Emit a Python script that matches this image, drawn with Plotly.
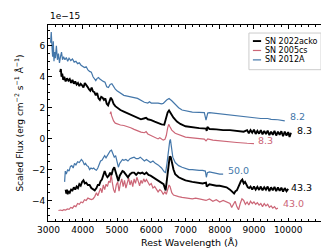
import plotly.graph_objects as go

# ---------------- data (flux in units of 1e-15, already offset) ----------------
wl_12a_early = [3060, 3080, 3100, 3120, 3140, 3160, 3180, 3200, 3230, 3260, 3290, 3320, 3350, 3380, 3410, 3440,
                3480, 3520, 3560, 3600, 3650, 3700, 3750, 3800, 3850, 3900, 3950, 4000, 4050, 4100, 4150, 4200,
                4250, 4300, 4340, 4380, 4420, 4460, 4500, 4550, 4600, 4650, 4700, 4750, 4800, 4850, 4900, 4950,
                5000, 5100, 5200, 5300, 5400, 5500, 5600, 5700, 5800, 5900, 5950, 6000, 6100, 6200, 6300, 6350,
                6450, 6520, 6600, 6700, 6800, 6900, 7000, 7200, 7400, 7550, 7600, 7650, 7700, 8000, 8200, 8500,
                8700, 9000, 9200, 9400, 9500, 9700, 9900]
fl_12a_early = [6.2, 6.9, 6.0, 5.3, 6.3, 5.0, 5.6, 5.2, 6.0, 5.1, 5.5, 4.9, 5.3, 5.6, 5.1, 5.3,
                5.1, 5.25, 5.0, 5.2, 5.05, 5.15, 4.95, 5.0, 4.85, 4.9, 4.75, 4.7, 4.6, 4.65, 4.45, 4.35,
                4.3, 4.0, 3.85, 3.75, 3.9, 3.95, 3.85, 3.75, 3.7, 3.65, 3.35, 3.3, 3.5, 3.55, 3.35, 3.2,
                3.1, 2.95, 2.8, 2.75, 2.72, 2.65, 2.6, 2.45, 2.35, 2.3, 2.38, 2.3, 2.3, 2.3, 2.25, 2.28,
                2.5, 2.6, 2.45, 2.2, 2.0, 1.85, 1.8, 1.72, 1.7, 1.68, 1.2, 1.65, 1.68, 1.6, 1.55, 1.45,
                1.4, 1.35, 1.3, 1.3, 1.25, 1.22, 1.15]

wl_acko_early = [3340, 3360, 3380, 3400, 3430, 3460, 3500, 3540, 3580, 3620, 3660, 3700, 3740, 3780, 3820, 3860,
                 3900, 3940, 3980, 4020, 4060, 4100, 4140, 4180, 4220, 4260, 4300, 4340, 4380, 4420, 4460, 4500,
                 4540, 4580, 4620, 4660, 4700, 4740, 4780, 4820, 4860, 4900, 4950, 5000, 5100, 5200, 5300, 5400,
                 5500, 5600, 5700, 5780, 5850, 5900, 6000, 6100, 6200, 6300, 6380, 6420, 6480, 6520, 6580, 6650,
                 6750, 6850, 7000, 7200, 7400, 7600, 7620, 7640, 7700, 7900, 8100, 8300, 8500, 8700,
                 8800, 8850, 8900, 8950, 9000, 9050, 9100, 9150, 9200, 9250, 9300, 9350, 9400, 9450, 9500, 9550,
                 9600, 9650, 9700, 9750, 9800, 9850, 9900, 9950, 10000, 10040, 10080]
fl_acko_early = [4.3, 4.5, 4.0, 4.2, 3.8, 4.0, 3.7, 3.9, 3.75, 3.85, 3.6, 3.8, 3.55, 3.7, 3.5, 3.6,
                 3.4, 3.55, 3.45, 3.3, 3.6, 3.5, 3.35, 3.2, 3.1, 3.3, 3.05, 3.0, 2.8, 2.95, 2.6, 2.5,
                 2.7, 2.65, 2.5, 2.6, 2.25, 2.15, 2.4, 2.65, 2.5, 2.25, 2.1, 2.0, 1.85, 1.75, 1.65, 1.55,
                 1.45, 1.35, 1.25, 1.3, 1.35, 1.25, 1.2, 1.1, 1.0, 0.92, 0.9, 1.2, 1.7, 1.82, 1.6, 1.35,
                 1.1, 0.95, 0.8, 0.72, 0.68, 0.65, 0.5, 0.75, 0.62, 0.6, 0.55, 0.55, 0.5, 0.45,
                 0.55, 0.35, 0.55, 0.38, 0.58, 0.3, 0.5, 0.32, 0.55, 0.28, 0.5, 0.3, 0.52, 0.22, 0.45, 0.25,
                 0.5, 0.2, 0.45, 0.25, 0.48, 0.15, 0.45, 0.2, 0.42, 0.1, 0.38]

wl_05cs_early = [4800, 4820, 4840, 4870, 4900, 4950, 5000, 5100, 5200, 5300, 5400, 5500, 5600, 5700, 5800, 5850,
                 5900, 6000, 6050, 6100, 6150, 6200, 6250, 6300, 6350, 6400, 6440, 6480, 6510, 6550, 6600, 6700,
                 6800, 6900, 7000, 7200, 7400, 7550, 7600, 7650, 7800, 8000, 8200, 8500, 8800, 9000]
fl_05cs_early = [1.6, 1.75, 1.5, 1.3, 1.15, 1.0, 0.95, 0.88, 0.85, 0.8, 0.7, 0.6, 0.5, 0.42, 0.38, 0.45,
                 0.3, 0.2, 0.12, 0.1, 0.02, -0.02, 0.05, 0.0, -0.1, -0.05, 0.2, 0.7, 0.92, 0.75, 0.55, 0.35,
                 0.25, 0.15, 0.1, 0.05, 0.0, -0.03, -0.15, -0.02, -0.1, -0.15, -0.2, -0.25, -0.3, -0.32]

wl_12a_late = [3470, 3490, 3520, 3560, 3600, 3640, 3680, 3720, 3760, 3800, 3850, 3900, 3960, 4000, 4050, 4080,
               4120, 4160, 4200, 4240, 4280, 4320, 4360, 4400, 4440, 4480, 4520, 4560, 4600, 4640, 4680, 4720,
               4760, 4800, 4840, 4880, 4920, 4960, 5000, 5040, 5080, 5120, 5160, 5200, 5260, 5320, 5380, 5440,
               5500, 5560, 5620, 5680, 5740, 5800, 5860, 5920, 5980, 6050, 6120, 6200, 6300, 6380, 6420, 6460,
               6500, 6540, 6560, 6590, 6630, 6700, 6800, 6900, 7000, 7100, 7200, 7300, 7400, 7500, 7580, 7610,
               7640, 7700, 7800, 7900, 8000, 8100]
fl_12a_late = [-2.8, -2.1, -2.3, -2.0, -2.1, -1.8, -1.75, -1.9, -1.6, -1.7, -1.5, -1.55, -1.35, -1.45, -1.7, -1.6,
               -1.75, -1.8, -2.0, -1.9, -1.95, -1.9, -2.0, -2.05, -1.9, -1.7, -1.45, -1.4, -1.2, -1.1, -1.25, -1.1,
               -1.0, -0.8, -0.75, -0.95, -1.2, -1.1, -1.5, -1.85, -1.6, -1.45, -1.35, -1.4, -1.35, -1.45, -1.3, -1.25,
               -1.2, -1.3, -1.3, -1.2, -1.3, -1.45, -1.35, -1.45, -1.55, -1.45, -1.6, -1.7, -1.9, -2.15, -2.2, -1.6,
               -0.8, -0.15, -0.05, -0.5, -1.2, -1.55, -1.75, -1.85, -1.95, -2.0, -2.0, -2.05, -2.05, -2.05, -2.1, -2.5,
               -2.2, -2.15, -2.2, -2.25, -2.3, -2.3]

wl_acko_late = [3500, 3520, 3540, 3560, 3580, 3620, 3660, 3700, 3740, 3780, 3820, 3860, 3900, 3940, 3980, 4020,
                4060, 4100, 4150, 4200, 4250, 4300, 4350, 4400, 4440, 4480, 4520, 4560, 4600, 4640, 4680, 4720,
                4760, 4800, 4840, 4880, 4920, 4960, 5000, 5040, 5080, 5120, 5160, 5200, 5260, 5320, 5380, 5440,
                5500, 5560, 5620, 5680, 5740, 5800, 5860, 5920, 5980, 6050, 6120, 6200, 6280, 6360, 6420, 6460,
                6500, 6540, 6570, 6600, 6650, 6700, 6800, 6900, 7000, 7200, 7400, 7500, 7600, 7620, 7700, 7800,
                7900, 8000, 8100, 8200, 8300, 8380, 8420, 8460, 8500, 8540, 8580, 8620, 8660, 8700, 8740, 8780,
                8820, 8860, 8900, 8950, 9000, 9050, 9100, 9150, 9200, 9250, 9300, 9350, 9400, 9450, 9500, 9550,
                9600, 9650, 9700, 9750, 9800, 9850, 9900, 9950, 10000]
fl_acko_late = [-3.3, -3.55, -3.3, -3.6, -3.4, -3.5, -3.3, -3.35, -3.15, -3.3, -3.1, -3.2, -2.95, -3.05, -2.8, -2.7,
                -2.9, -2.85, -3.0, -3.0, -3.2, -3.25, -3.35, -3.2, -3.0, -3.0, -2.75, -2.65, -2.3, -2.1, -2.35, -2.5,
                -2.4, -2.2, -2.35, -2.0, -1.85, -2.2, -2.5, -2.75, -2.4, -2.25, -2.1, -2.15, -2.35, -2.5, -2.3, -2.2,
                -2.2, -2.35, -2.2, -2.25, -2.2, -2.3, -2.2, -2.35, -2.4, -2.5, -2.6, -2.7, -2.8, -2.95, -3.35, -2.6,
                -1.8, -1.15, -1.2, -1.6, -2.0, -2.3, -2.5, -2.6, -2.7, -2.8, -2.85, -2.9, -2.85, -3.1, -2.95, -3.0,
                -3.05, -3.05, -3.1, -3.15, -3.3, -3.5, -3.55, -3.4, -3.35, -3.15, -2.9, -2.75, -2.65, -2.9, -2.8, -3.0,
                -3.15, -3.2, -3.1, -3.3, -3.1, -3.3, -3.12, -3.32, -3.1, -3.35, -3.15, -3.3, -3.1, -3.4, -3.15, -3.35,
                -3.12, -3.4, -3.15, -3.38, -3.18, -3.42, -3.2, -3.4, -3.25]

wl_05cs_late = [3290, 3350, 3400, 3450, 3500, 3550, 3600, 3650, 3700, 3750, 3800, 3850, 3900, 3950, 4000, 4050,
                4100, 4150, 4200, 4250, 4300, 4350, 4400, 4440, 4480, 4520, 4560, 4600, 4640, 4680, 4720, 4760,
                4800, 4830, 4860, 4900, 4940, 4980, 5020, 5060, 5100, 5140, 5180, 5220, 5260, 5300, 5340, 5380,
                5420, 5460, 5500, 5540, 5580, 5620, 5660, 5700, 5740, 5780, 5820, 5860, 5900, 5950, 6000, 6050,
                6100, 6150, 6200, 6250, 6300, 6350, 6400, 6440, 6480, 6520, 6550, 6600, 6650, 6700, 6800, 6900,
                7000, 7100, 7200, 7300, 7400, 7500, 7600, 7700, 7800, 7900, 8000, 8100, 8200, 8300, 8350, 8400,
                8450, 8500, 8550, 8600, 8650, 8700, 8750, 8800, 8850, 8900, 8950, 9000, 9050, 9100, 9150, 9200,
                9250, 9300, 9350, 9400, 9450, 9500, 9550, 9600, 9650, 9700]
fl_05cs_late = [-4.65, -4.62, -4.65, -4.6, -4.62, -4.55, -4.58, -4.45, -4.5, -4.35, -4.4, -4.2, -4.25, -4.1, -4.15, -3.95,
                -4.0, -3.85, -3.9, -3.95, -3.9, -3.75, -3.5, -3.7, -3.45, -3.2, -3.5, -3.0, -3.3, -2.95, -3.1, -2.75,
                -2.85, -2.3, -2.8, -3.3, -3.5, -3.0, -2.8, -3.4, -2.9, -2.6, -3.1, -2.7, -3.2, -2.8, -2.55, -3.0,
                -2.7, -3.1, -2.6, -2.9, -2.5, -2.75, -3.05, -2.7, -2.9, -2.6, -2.8, -2.65, -2.8, -3.0, -2.9, -3.2,
                -3.1, -3.3, -3.45, -3.3, -3.4, -3.6, -3.45, -3.6, -3.25, -3.0, -3.1, -3.5, -3.65, -3.7, -3.75, -3.8,
                -3.85, -3.85, -3.9, -3.85, -3.9, -3.95, -4.0, -3.9, -4.05, -3.95, -4.1, -4.0, -4.1, -4.2, -4.45, -4.2,
                -4.05, -4.4, -4.6, -4.2, -3.9, -4.0, -4.25, -4.1, -4.3, -4.05, -4.2, -4.1, -4.25, -4.15, -4.3, -4.2,
                -4.4, -4.2, -4.35, -4.25, -4.45, -4.35, -4.5, -4.4, -4.55, -4.5]

epoch_labels = ["8.2", "8.3", "8.3", "50.0", "43.3", "43.0"]
label_x = [10000, 10200, 9060, 8170, 10030, 9780]
label_y = [1.42, 0.55, -0.15, -2.04, -3.16, -4.19]

legend_names = ["SN 2022acko", "SN 2005cs", "SN 2012A"]

x_tickvals = [3000, 4000, 5000, 6000, 7000, 8000, 9000, 10000, 11000]
x_ticktext = ["3000", "4000", "5000", "6000", "7000", "8000", "9000", "10000", "11000"]
y_tickvals = [-4, -2, 0, 2, 4, 6]
y_ticktext = ["\u22124", "\u22122", "0", "2", "4", "6"]

BLACK = "#000000"
RED = "#CC6677"
BLUE = "#4477AA"
FONT = "DejaVu Sans"

fig = go.Figure()

# SN 2012A
fig.add_trace(go.Scatter(x=wl_12a_early, y=fl_12a_early, mode="lines", name="SN 2012A",
                         line=dict(color=BLUE, width=1.2)))
fig.add_trace(go.Scatter(x=wl_12a_late, y=fl_12a_late, mode="lines", name="SN 2012A",
                         line=dict(color=BLUE, width=1.2)))
# SN 2005cs
fig.add_trace(go.Scatter(x=wl_05cs_early, y=fl_05cs_early, mode="lines", name="SN 2005cs",
                         line=dict(color=RED, width=1.2)))
fig.add_trace(go.Scatter(x=wl_05cs_late, y=fl_05cs_late, mode="lines", name="SN 2005cs",
                         line=dict(color=RED, width=1.2)))
# SN 2022acko
fig.add_trace(go.Scatter(x=wl_acko_early, y=fl_acko_early, mode="lines", name="SN 2022acko",
                         line=dict(color=BLACK, width=1.9)))
fig.add_trace(go.Scatter(x=wl_acko_late, y=fl_acko_late, mode="lines", name="SN 2022acko",
                         line=dict(color=BLACK, width=1.9)))

label_colors = [BLUE, BLACK, RED, BLUE, BLACK, RED]
for txt, lx, ly, c in zip(epoch_labels, label_x, label_y, label_colors):
    fig.add_annotation(x=lx, y=ly, text=txt, showarrow=False, xanchor="left", yanchor="middle",
                       font=dict(family=FONT, size=9.5, color=c))

fig.add_annotation(xref="paper", yref="paper", x=0, y=1.01, text="1e\u221215", showarrow=False,
                   xanchor="left", yanchor="bottom", font=dict(family=FONT, size=9, color="black"))

# compact matplotlib-style legend box (drawn in paper coordinates)
leg_x0, leg_x1, leg_y0, leg_y1 = 0.710, 0.965, 0.772, 0.959
fig.add_shape(type="rect", xref="paper", yref="paper", x0=leg_x0, x1=leg_x1, y0=leg_y0, y1=leg_y1,
              line=dict(color="#cccccc", width=1), fillcolor="rgba(255,255,255,0.85)", layer="above")
legend_colors = [BLACK, RED, BLUE]
legend_widths = [1.9, 1.2, 1.2]
legend_row_y = [0.918, 0.870, 0.822]
for name, c, w, ry in zip(legend_names, legend_colors, legend_widths, legend_row_y):
    fig.add_shape(type="line", xref="paper", yref="paper", x0=0.724, x1=0.753, y0=ry, y1=ry,
                  line=dict(color=c, width=w), layer="above")
    fig.add_annotation(xref="paper", yref="paper", x=0.760, y=ry, text=name, showarrow=False,
                       xanchor="left", yanchor="middle", font=dict(family=FONT, size=8, color="black"))

axis_common = dict(showline=True, linecolor="black", linewidth=1, mirror="allticks", ticks="inside",
                   ticklen=3.5, tickwidth=0.8, tickcolor="black", showgrid=False, zeroline=False,
                   tickfont=dict(family=FONT, size=9, color="black"))

fig.update_xaxes(range=[2985, 11250], tickvals=x_tickvals, ticktext=x_ticktext,
                 title=dict(text="Rest Wavelength (Å)", font=dict(family=FONT, size=9.5, color="black"),
                            standoff=5),
                 minor=dict(dtick=200, tick0=3000, ticks="inside", ticklen=2, tickwidth=0.6, tickcolor="black"),
                 **axis_common)
fig.update_yaxes(range=[-5.33, 7.35], tickvals=y_tickvals, ticktext=y_ticktext,
                 title=dict(text="Scaled Flux (erg cm<sup>\u22122</sup> s<sup>\u22121</sup> Å<sup>\u22121</sup>)",
                            font=dict(family=FONT, size=9, color="black"), standoff=6),
                 minor=dict(dtick=0.5, tick0=0, ticks="inside", ticklen=2, tickwidth=0.6, tickcolor="black"),
                 **axis_common)

fig.update_layout(
    width=329, height=249,
    margin=dict(l=40, r=6, t=17, b=36),
    paper_bgcolor="white", plot_bgcolor="white",
    font=dict(family=FONT, size=9, color="black"),
    showlegend=False,
)

fig.write_html("out.html")
